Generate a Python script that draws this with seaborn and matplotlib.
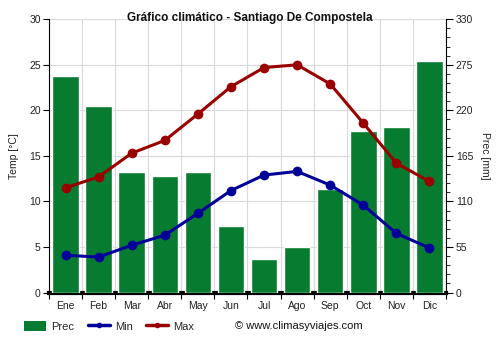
import numpy as np
import matplotlib
matplotlib.use("Agg")
import matplotlib.pyplot as plt
from matplotlib.patches import Patch
from matplotlib.lines import Line2D
from matplotlib.ticker import MultipleLocator, FixedLocator, NullLocator
import seaborn as sns

months = ["Ene", "Feb", "Mar", "Abr", "May", "Jun", "Jul", "Ago", "Sep", "Oct", "Nov", "Dic"]
prec = [261, 225, 146, 141, 146, 80, 41, 55, 125, 195, 200, 280]
tmin = [4.1, 3.9, 5.2, 6.3, 8.7, 11.2, 12.9, 13.3, 11.8, 9.6, 6.5, 4.9]
tmax = [11.5, 12.7, 15.3, 16.7, 19.6, 22.6, 24.7, 25.0, 22.9, 18.6, 14.2, 12.2]

GREEN = "#077c30"
BLUE = "#000099"
RED = "#990000"
TXT = "#222222"

sns.set_theme(style="white")
plt.rcParams["font.family"] = ["Liberation Sans", "DejaVu Sans"]

fig = plt.figure(figsize=(5, 3.5), dpi=100)
ax = fig.add_axes([0.098, 0.164, 0.794, 0.781])
ax2 = ax.twinx()

# precipitation bars on the base axis (scale shown on the right)
sns.barplot(x=months, y=prec, ax=ax, color=GREEN, width=0.8, saturation=1, zorder=2)
ax.set_ylim(0, 330)
ax.set_xlim(-0.5, 11.5)
ax.set_xlabel("")
ax.set_ylabel("")
ax.yaxis.set_major_locator(MultipleLocator(55))
ax.yaxis.set_minor_locator(MultipleLocator(11))

# grid: horizontal on 55 mm steps, vertical on month boundaries
ax.xaxis.set_minor_locator(FixedLocator(np.arange(-0.5, 12, 1)))
ax.grid(True, which="major", axis="y", color="#d9d9d9", linewidth=0.8, zorder=0)
ax.grid(True, which="minor", axis="x", color="#d9d9d9", linewidth=0.8, zorder=0)
ax.set_axisbelow(True)

ax.tick_params(axis="x", which="major", length=0, labelsize=7.5, pad=6, colors=TXT)
ax.tick_params(axis="x", which="minor", length=4, width=0.8, color="black", bottom=True, top=False)

ax.spines["top"].set_visible(False)
for side in ["left", "right"]:
    ax.spines[side].set_visible(True)
    ax.spines[side].set_color("black")
    ax.spines[side].set_linewidth(0.8)
ax.spines["bottom"].set_color("black")
ax.spines["bottom"].set_linewidth(3)
ax.spines["bottom"].set_zorder(1)

# temperatures on the twin axis (scale shown on the left)
x = np.arange(len(months))
sns.lineplot(x=x, y=tmin, ax=ax2, color=BLUE, linewidth=2.2, marker="o", markersize=7,
             markeredgewidth=0, zorder=3)
sns.lineplot(x=x, y=tmax, ax=ax2, color=RED, linewidth=2.2, marker="o", markersize=7,
             markeredgewidth=0, zorder=3)
ax2.set_ylim(0, 30)
ax2.set_xlim(-0.5, 11.5)
ax2.yaxis.set_major_locator(MultipleLocator(5))
ax2.yaxis.set_minor_locator(NullLocator())
for s in ax2.spines.values():
    s.set_visible(False)

# place each scale on its own side
ax.yaxis.tick_right()
ax.yaxis.set_label_position("right")
ax.tick_params(axis="y", which="major", length=5, width=0.8, color="black", labelsize=7.5,
               right=True, left=False, labelright=True, labelleft=False, pad=2, labelcolor=TXT)
ax.tick_params(axis="y", which="minor", length=3, width=0.6, color="black",
               right=True, left=False)
ax.set_ylabel("Prec [mm]", fontsize=7.5, rotation=270, labelpad=12, color=TXT)

ax2.yaxis.tick_left()
ax2.yaxis.set_label_position("left")
ax2.tick_params(axis="y", which="major", length=4, width=0.8, color="black", labelsize=7.5,
                left=True, right=False, labelleft=True, labelright=False, pad=2, labelcolor=TXT)
ax2.set_ylabel("Temp [°C]", fontsize=7.5, labelpad=7, color=TXT)

fig.text(0.5, 0.948, "Gráfico climático - Santiago De Compostela", fontsize=8.5,
         fontweight="bold", ha="center", va="center", color="#111111")

handles = [
    Patch(facecolor=GREEN, edgecolor="none"),
    Line2D([0], [0], color=BLUE, linewidth=2.5, marker="o", markersize=3),
    Line2D([0], [0], color=RED, linewidth=2.5, marker="o", markersize=3),
]
fig.legend(handles, ["Prec", "Min", "Max"], loc="center left", bbox_to_anchor=(0.048, 0.068),
           ncol=3, frameon=False, fontsize=8, handlelength=2.0, handleheight=1.1,
           columnspacing=1.2, handletextpad=0.45, borderpad=0, borderaxespad=0)
fig.text(0.47, 0.068, "© www.climasyviajes.com", fontsize=8, va="center", color="#111111")

fig.savefig("out.png", dpi=100)
